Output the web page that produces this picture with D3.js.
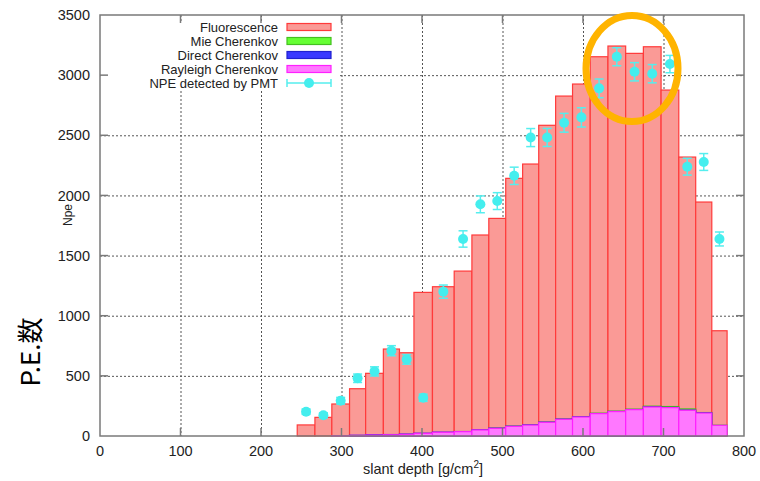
<!DOCTYPE html>
<html>
<head>
<meta charset="utf-8">
<script src="https://cdn.jsdelivr.net/npm/d3@7"></script>
<style>
  html, body { margin: 0; padding: 0; background: #fff; }
  svg { display: block; }
  text { font-family: "Liberation Sans", Arial, Helvetica, sans-serif; fill: #222; }
</style>
</head>
<body>
<svg id="chart" width="760" height="481"></svg>
<script>
// Slant-depth bin edges [g/cm^2]
const binEdges = [245, 267, 288, 310, 330, 352, 372, 390, 413, 440, 462, 483, 504,
                  525, 545, 566, 587, 609, 631, 653, 675, 697, 719, 740, 760, 779];

// Simulated photoelectron contributions per bin
const fluorescence = [92, 155, 264, 387, 511, 711, 676, 1171, 1209, 1334, 1620, 1743, 2060,
                      2168, 2467, 2685, 2766, 2964, 3036, 2958, 2988, 2631, 2094, 1750, 785];
const mieCherenkov = [0, 0, 0, 0, 0, 0, 0, 0, 0, 0, 0, 1, 1,
                      1, 1, 1, 1, 2, 2, 3, 6, 8, 10, 3, 1];
const directCherenkov = [0, 0, 0, 1, 2, 2, 2, 1, 1, 1, 1, 1, 1,
                         1, 1, 1, 1, 1, 1, 1, 1, 1, 1, 1, 0];
const rayleighCherenkov = [0, 0, 2, 5, 8, 10, 14, 22, 31, 36, 50, 64, 80,
                           91, 114, 139, 158, 186, 203, 219, 241, 236, 214, 191, 89];

// Photoelectrons detected by the PMT, with errors
const npeDetected = [202, 173, 293, 480, 537, 709, 637, 318, 1200, 1638, 1926, 1953, 2163,
                     2481, 2482, 2604, 2649, 2890, 3153, 3028, 3012, 3092, 2239, 2278, 1638];
const npeError = [22, 20, 28, 35, 38, 42, 40, 30, 55, 68, 70, 70, 72,
                  75, 75, 78, 80, 78, 75, 76, 76, 72, 70, 70, 58];

const xTicks = [0, 100, 200, 300, 400, 500, 600, 700, 800];
const yTicks = [0, 500, 1000, 1500, 2000, 2500, 3000, 3500];

const legendLabels = ["Fluorescence", "Mie Cherenkov", "Direct Cherenkov", "Rayleigh Cherenkov", "NPE detected by PMT"];

const svg = d3.select("#chart");
const plot = { left: 100, right: 744, top: 15, bottom: 436 };

const x = d3.scaleLinear().domain([0, 800]).range([plot.left, plot.right]);
const y = d3.scaleLinear().domain([0, 3500]).range([plot.bottom, plot.top]);

// Rows for stacking (bottom to top: Rayleigh, Direct, Mie, Fluorescence)
const rows = fluorescence.map((f, i) => ({
  i, x0: binEdges[i], x1: binEdges[i + 1],
  rayleigh: rayleighCherenkov[i], direct: directCherenkov[i], mie: mieCherenkov[i], fluor: f
}));
const keys = ["rayleigh", "direct", "mie", "fluor"];
const stacked = d3.stack().keys(keys)(rows);

const styles = {
  fluor:    { fill: "#fa9a96", stroke: "#ff3a3a" },
  mie:      { fill: "#66ff33", stroke: "#44c020" },
  direct:   { fill: "#3838ff", stroke: "#2020d0" },
  rayleigh: { fill: "#ff78ff", stroke: "#ff20ff" }
};

// Grid (dashed) behind the histogram
const grid = svg.append("g").attr("stroke", "#555").attr("stroke-width", 1)
  .attr("stroke-dasharray", "2,2");
grid.selectAll("line.gx").data(xTicks.filter(t => t > 0 && t < 800)).join("line")
  .attr("x1", d => x(d) + 0.5).attr("x2", d => x(d) + 0.5)
  .attr("y1", plot.top).attr("y2", plot.bottom);
grid.selectAll("line.gy").data(yTicks.filter(t => t > 0 && t < 3500)).join("line")
  .attr("x1", plot.left).attr("x2", plot.right)
  .attr("y1", d => y(d) + 0.5).attr("y2", d => y(d) + 0.5);

// Cumulative boxes drawn from the total down to the lowest component
const bars = svg.append("g");
[...stacked].reverse().forEach(layer => {
  const st = styles[layer.key];
  bars.append("g").selectAll("rect").data(layer).join("rect")
    .attr("x", d => x(d.data.x0))
    .attr("width", d => x(d.data.x1) - x(d.data.x0))
    .attr("y", d => y(d[1]))
    .attr("height", d => Math.max(0, y(0) - y(d[1])))
    .attr("fill", st.fill)
    .attr("stroke", st.stroke)
    .attr("stroke-width", 1.2)
    .attr("display", d => d[1] - d[0] <= 0 && layer.key !== "fluor" ? "none" : null);
});

// Legend panel (opaque, hides the grid)
svg.append("rect").attr("x", plot.left + 1).attr("y", 21).attr("width", 237).attr("height", 69)
  .attr("fill", "#fff");

// Frame with inward ticks
const frame = svg.append("g").attr("stroke", "#7a7a7a").attr("stroke-width", 1.5).attr("fill", "none");
frame.append("rect").attr("x", plot.left).attr("y", plot.top)
  .attr("width", plot.right - plot.left).attr("height", plot.bottom - plot.top);
const tk = 8;
frame.selectAll("line.ty").data(yTicks.filter(t => t > 0 && t < 3500)).join("line")
  .attr("x1", plot.left).attr("x2", plot.left + tk).attr("y1", d => y(d)).attr("y2", d => y(d));
frame.selectAll("line.tyr").data(yTicks.filter(t => t > 0 && t < 3500)).join("line")
  .attr("x1", plot.right).attr("x2", plot.right - tk).attr("y1", d => y(d)).attr("y2", d => y(d));
frame.selectAll("line.tx").data(xTicks.filter(t => t > 0 && t < 800)).join("line")
  .attr("x1", d => x(d)).attr("x2", d => x(d)).attr("y1", plot.bottom).attr("y2", plot.bottom - tk);
frame.selectAll("line.txt").data(xTicks.filter(t => t > 0 && t < 800)).join("line")
  .attr("x1", d => x(d)).attr("x2", d => x(d)).attr("y1", plot.top).attr("y2", plot.top + tk);

// Tick labels
svg.append("g").selectAll("text").data(yTicks).join("text")
  .attr("x", 90).attr("y", d => y(d)).attr("dy", "0.35em")
  .attr("text-anchor", "end").attr("font-size", 14.5).text(d => d);
svg.append("g").selectAll("text").data(xTicks).join("text")
  .attr("x", d => x(d)).attr("y", 451).attr("dy", "0.35em")
  .attr("text-anchor", "middle").attr("font-size", 14.5).text(d => d);

// Axis titles
const xt = svg.append("text").attr("x", 423).attr("y", 474).attr("text-anchor", "middle")
  .attr("font-size", 14.5);
xt.append("tspan").text("slant depth [g/cm");
xt.append("tspan").attr("dy", -6).attr("font-size", 10).text("2");
xt.append("tspan").attr("dy", 6).text("]");

svg.append("text").attr("transform", "translate(72,215) rotate(-90)")
  .attr("text-anchor", "middle").attr("font-size", 12).text("Npe");

svg.append("text").attr("transform", "translate(40,352) rotate(-90)")
  .attr("text-anchor", "middle").attr("font-size", 26)
  .style("font-family", "'Noto Sans CJK JP', 'Noto Sans', sans-serif")
  .style("fill", "#000").text("P.E.数");

// Measured points with error bars
const centers = npeDetected.map((v, i) => (binEdges[i] + binEdges[i + 1]) / 2);
const pts = svg.append("g");
const eb = pts.append("g").attr("stroke", "#55eeee").attr("stroke-width", 1.5);
npeDetected.forEach((v, i) => {
  const cx = x(centers[i]);
  eb.append("line").attr("x1", cx).attr("x2", cx).attr("y1", y(v - npeError[i])).attr("y2", y(v + npeError[i]));
  [v - npeError[i], v + npeError[i]].forEach(e =>
    eb.append("line").attr("x1", cx - 4.5).attr("x2", cx + 4.5).attr("y1", y(e)).attr("y2", y(e)));
});
pts.selectAll("circle").data(npeDetected).join("circle")
  .attr("cx", (d, i) => x(centers[i])).attr("cy", d => y(d)).attr("r", 5)
  .attr("fill", "#44eeee");

// Legend
const leg = svg.append("g");
const legY = [27, 41, 55, 69, 83];
const legKeys = ["fluor", "mie", "direct", "rayleigh"];
legendLabels.forEach((lab, i) => {
  leg.append("text").attr("x", 278).attr("y", legY[i]).attr("dy", "0.35em")
    .attr("text-anchor", "end").attr("font-size", 13).text(lab);
  if (i < 4) {
    const st = styles[legKeys[i]];
    leg.append("rect").attr("x", 287).attr("y", legY[i] - 3.5).attr("width", 44).attr("height", 7)
      .attr("fill", st.fill).attr("stroke", st.stroke).attr("stroke-width", 1.2);
  } else {
    const g = leg.append("g").attr("stroke", "#55eeee").attr("stroke-width", 1.5);
    g.append("line").attr("x1", 287).attr("x2", 331).attr("y1", legY[i]).attr("y2", legY[i]);
    g.append("line").attr("x1", 287).attr("x2", 287).attr("y1", legY[i] - 4).attr("y2", legY[i] + 4);
    g.append("line").attr("x1", 331).attr("x2", 331).attr("y1", legY[i] - 4).attr("y2", legY[i] + 4);
    leg.append("circle").attr("cx", 309).attr("cy", legY[i]).attr("r", 5).attr("fill", "#44eeee");
  }
});

// Highlight around the peak region
svg.append("ellipse").attr("cx", 632).attr("cy", 68.5).attr("rx", 46).attr("ry", 53)
  .attr("fill", "none").attr("stroke", "#ffb400").attr("stroke-width", 7);
</script>
</body>
</html>
